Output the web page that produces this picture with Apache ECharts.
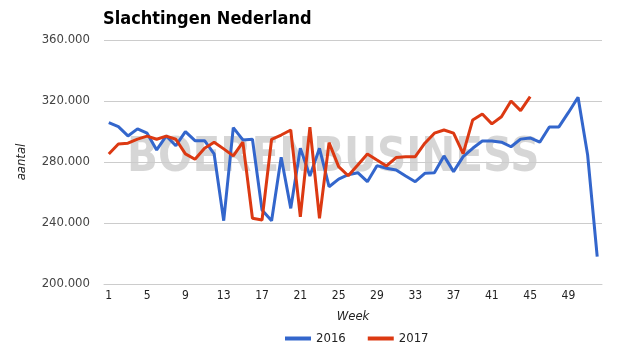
<!DOCTYPE html>
<html>
<head>
<meta charset="utf-8">
<script src="https://cdn.jsdelivr.net/npm/echarts@6/dist/echarts.min.js"></script>
<style>html,body{margin:0;padding:0;background:#fff}#c{width:625px;height:355px}</style>
</head>
<body>
<div id="c"></div>
<script>
var weeks = [];
for (var w = 1; w <= 52; w++) weeks.push(String(w));
var s2016 = [305800,303200,297100,301700,298900,287900,297100,290700,299900,294000,
  294000,285300,241500,302500,294500,294900,248500,241500,283100,249600,
  289000,270800,289000,263800,268800,271700,273000,267100,277600,275900,
  274800,270800,267100,272600,273000,284000,273700,283500,289000,293800,
  293800,293000,290000,295000,295800,293000,303000,303000,312500,322500,
  284600,217900];
var s2017 = [285300,291800,292300,295000,297000,294900,297000,294900,285300,281800,
  289000,293000,288600,284000,293000,243100,242000,294900,297700,301000,
  244100,302800,243100,292700,277000,271000,278000,285300,281300,277400,
  282900,283500,283500,292300,298900,301000,298900,285500,307600,311500,
  305000,309700,320000,313700,322900];
var yTicks = { min: 200000, max: 360000, interval: 40000 };
var FONT = "'DejaVu Sans Condensed', 'DejaVu Sans', sans-serif";

function fmt(v) {
  return String(v).replace(/\B(?=(\d{3})+(?!\d))/g, '.');
}

var chart = echarts.init(document.getElementById('c'));
chart.setOption({
  animation: false,
  backgroundColor: '#ffffff',
  textStyle: { fontFamily: FONT },
  title: {
    text: 'Slachtingen Nederland',
    left: 103, top: 10, padding: 0,
    textStyle: { fontFamily: FONT, fontWeight: 'bold', fontSize: 18, color: '#000' }
  },
  graphic: [{
    type: 'text',
    x: 127, y: 135,
    scaleX: 0.94,
    z: 0,
    silent: true,
    style: {
      text: 'BOERENBUSINESS',
      fontFamily: FONT,
      fontWeight: 'bold',
      fontSize: 48,
      fill: 'rgba(0,0,0,0.16)'
    }
  }],
  grid: { left: 104, right: 23, top: 40, bottom: 71 },
  legend: {
    left: 280, top: 327,
    icon: 'rect', itemWidth: 26, itemHeight: 4, itemGap: 22,
    textStyle: { fontFamily: FONT, fontSize: 13, color: '#222' },
    data: ['2016', '2017']
  },
  xAxis: {
    type: 'category',
    data: weeks,
    boundaryGap: true,
    name: 'Week',
    nameLocation: 'middle',
    nameGap: 26,
    nameTextStyle: { fontFamily: FONT, fontStyle: 'italic', fontSize: 13, color: '#222' },
    axisLine: { show: true, lineStyle: { color: '#cccccc', width: 1 } },
    axisTick: { show: false },
    axisLabel: { interval: 3, margin: 6, fontSize: 12, color: '#222', fontFamily: FONT }
  },
  yAxis: {
    type: 'value',
    min: yTicks.min, max: yTicks.max, interval: yTicks.interval,
    name: 'aantal',
    nameLocation: 'middle',
    nameGap: 76,
    nameRotate: 90,
    nameTextStyle: { fontFamily: FONT, fontStyle: 'italic', fontSize: 13, color: '#222' },
    axisLine: { show: false },
    axisTick: { show: false },
    splitLine: { lineStyle: { color: '#cccccc', width: 1 } },
    axisLabel: { margin: 14, fontSize: 13, color: '#444', fontFamily: FONT, formatter: fmt }
  },
  series: [
    { name: '2016', type: 'line', data: s2016, symbol: 'none', z: 3,
      lineStyle: { color: '#3366cc', width: 3 }, itemStyle: { color: '#3366cc' } },
    { name: '2017', type: 'line', data: s2017, symbol: 'none', z: 4,
      lineStyle: { color: '#dc3912', width: 3 }, itemStyle: { color: '#dc3912' } }
  ]
});
</script>
</body>
</html>
